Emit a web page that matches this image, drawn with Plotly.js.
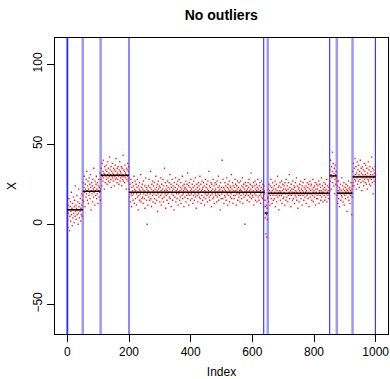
<!DOCTYPE html>
<html>
<head>
<meta charset="utf-8">
<script src="https://cdn.plot.ly/plotly-3.0.1.min.js"></script>
<style>html,body{margin:0;padding:0;background:#fff;}#chart{width:390px;height:379px;}</style>
</head>
<body>
<div id="chart"></div>
<script>
const seg1 = [3,-2,12,7,16,9,-4,5,11,14,2,8,20,6,10,-1,13,4,9,17,7,1,11,15,5,24,8,12,3,10,18,6,9,14,0,7,22,11,4,13,8,16,2,10,6,19,12,5,9,15];
const seg2 = [18,26,14,23,30,20,11,25,22,17,28,19,33,21,15,24,27,13,22,18,29,20,25,16,31,23,9,21,26,19,24,14,28,22,17,35,20,23,12,27,21,18,25,30,16,22,19,26,13,24,21,28,17,23,20,32,15,22];
const seg3 = [28,35,31,24,38,30,27,33,40,29,32,22,36,31,26,34,30,37,28,33,25,31,39,29,35,27,32,30,42,26,34,31,28,36,23,33,30,38,29,32,27,35,31,24,34,30,37,28,33,41,29,31,26,35,32,28,36,30,25,34,31,39,27,33,29,32,36,24,30,35,28,31,43,27,34,30,33,26,37,29,32,31,22,35,28,34,30,38,27,33,36,29];
const seg4 = [
22,17,25,14,20,28,19,11,23,18,26,21,15,24,19,30,13,22,20,27,
16,21,25,12,19,23,28,17,20,9,24,18,22,26,15,21,19,31,14,23,
20,16,25,17,22,13,27,19,21,16,24,10,20,29,18,23,15,22,0,19,
12,21,24,17,28,20,15,23,19,33,16,22,11,25,20,18,27,14,21,24,
19,26,16,22,13,20,30,18,23,15,21,25,8,19,27,22,17,24,20,14,
23,18,29,21,12,25,19,16,22,28,20,14,24,17,35,21,19,26,10,22,
18,24,15,21,27,19,23,13,20,26,17,22,31,16,20,25,11,23,19,28,
21,15,24,18,22,9,26,20,17,23,29,14,21,19,25,16,22,27,12,20,
24,19,28,15,21,17,23,26,13,20,22,18,30,16,24,19,21,11,25,22,
17,23,20,27,14,22,18,25,21,32,16,19,24,12,20,26,18,23,15,21,
28,19,22,16,25,20,13,23,18,27,21,15,24,19,29,17,22,10,20,25,
18,23,14,21,26,19,24,17,22,30,16,20,25,13,21,18,27,22,15,23,
20,26,17,24,12,21,19,28,16,23,20,25,18,14,22,27,19,21,33,17,
24,15,20,23,18,26,21,11,25,19,22,16,28,20,17,24,13,21,26,19,
22,18,25,14,20,27,17,23,19,30,15,21,24,18,22,9,26,20,16,23,
19,40,21,16,28,20,23,13,22,18,26,17,21,24,15,20,29,19,23,12,
25,18,22,20,27,14,21,24,17,23,19,31,16,22,20,26,13,24,18,21,
16,23,20,28,18,25,21,12,24,19,22,27,15,20,23,17,26,19,21,14,
22,27,18,21,16,24,20,29,13,23,19,25,17,22,20,0,26,18,24,21,
19,24,15,22,20,26,18,23,28,14,21,17,25,19,22,32,16,20,24,18,
23,17,21,26,12,20,24,19,27,15,22,18,25,21,14,23,20,28,17,22,
20,15,24,18,26,21,13,19,23,27,17,22,16,25,20,18,11,24,21,19];
const seg5 = [15,4,11,-6,12,6,-8,10,3,16];
const seg6 = [
17,22,14,25,19,21,12,24,18,28,16,20,23,13,21,26,18,15,22,19,
24,16,20,27,11,22,18,25,14,21,19,30,17,23,20,9,24,18,21,26,
15,20,23,18,27,13,21,19,25,16,22,17,24,20,12,26,19,22,15,28,
21,17,24,19,14,22,26,18,20,31,16,23,19,21,11,25,18,22,20,15,
27,19,22,16,24,20,13,23,18,26,21,17,29,15,20,24,19,10,22,18,
23,14,21,25,18,20,27,16,22,19,24,12,21,18,26,20,15,23,19,28,
17,22,20,24,13,21,18,26,19,23,16,20,25,11,22,19,27,17,21,24,
19,25,15,22,18,28,20,14,23,21,17,24,19,26,12,22,20,16,25,18,
22,16,24,19,27,13,21,20,25,18,23,15,21,29,17,20,24,19,14,22,
20,26,18,23,15,21,25,17,22,19,28,14,20,24,18,21,16,23,19,25,21];
const seg7 = [34,27,40,31,22,36,29,33,45,26,38,30,24,32,35,19,28,37,31,25,33,29,27];
const seg8 = [18,24,13,21,27,16,20,23,11,22,19,25,15,21,18,29,17,20,24,14,22,19,26,12,21,18,23,16,20,25,19,22,8,21,24,17,20,27,15,22,19,23,13,21,18,26,20,6,22,17,24];
const seg9 = [33,26,38,30,24,35,28,41,31,27,36,22,32,29,39,25,34,30,27,37,31,23,33,28,40,30,26,35,32,21,29,36,31,27,34,24,30,38,28,33,26,31,37,29,25,35,30,22,32,28,39,27,34,30,25,36,29,31,24,33,28,42,30,26,35,31,19,29,34,27,32,30,36,25,31];

// Segment boundaries and fitted means
const bounds = [0, 50, 108, 200, 640, 650, 851, 874, 925, 1000];
const means  = [9, 20.6, 30.6, 20, 7, 19.4, 30.2, 19.4, 29.6];

// Changepoint lines
const cptsStrong = [0, 200, 637, 851, 999];
const cptsLight  = [0, 50, 108, 650, 874, 925];

const xTicks = [0, 200, 400, 600, 800, 1000];
const yTicks = [-50, 0, 50, 100];

const allY = [].concat(seg1, seg2, seg3, seg4, seg5, seg6, seg7, seg8, seg9);
const allX = allY.map((_, i) => i + 1);

const mx = [], my = [];
for (let i = 0; i < means.length; i++) {
  mx.push(bounds[i], bounds[i + 1], null);
  my.push(means[i], means[i], null);
}

const shapes = [];
cptsLight.forEach(c => shapes.push({type:'line', xref:'x', yref:'paper', x0:c, x1:c, y0:0, y1:1,
  line:{color:'rgba(70,70,255,0.55)', width:2.5}, layer:'below'}));
cptsStrong.forEach(c => shapes.push({type:'line', xref:'x', yref:'paper', x0:c, x1:c, y0:0, y1:1,
  line:{color:'rgb(20,20,255)', width:1}, layer:'below'}));

const data = [
  {x: allX, y: allY, type:'scatter', mode:'markers',
   marker:{color:'#ff0000', size:1.3, symbol:'square', line:{width:0}}, hoverinfo:'skip'},
  {x: mx, y: my, type:'scatter', mode:'lines', line:{color:'#000', width:1.5}, hoverinfo:'skip'}
];

const font = {family:'"Liberation Sans", Arial, sans-serif', color:'#000'};
const layout = {
  width:390, height:379,
  margin:{l:55, r:2, t:38, b:45},
  paper_bgcolor:'#fff', plot_bgcolor:'#fff',
  showlegend:false,
  font: Object.assign({size:12}, font),
  title:{text:'<b>No outliers</b>', font:Object.assign({size:14}, font), x:0.5675, xanchor:'center', y:0.96, yanchor:'middle'},
  xaxis:{range:[-40, 1040], tickmode:'array', tickvals:xTicks, ticktext:xTicks.map(String),
    ticks:'outside', ticklen:7, tickcolor:'#000', showgrid:false, zeroline:false,
    showline:true, mirror:true, linecolor:'#000', linewidth:1,
    tickfont:Object.assign({size:12}, font),
    title:{text:'Index', font:Object.assign({size:12}, font), standoff:14}},
  yaxis:{range:[-68.6, 116.4], tickmode:'array', tickvals:yTicks, ticktext:['\u221250','0','50','100'],
    ticks:'outside', ticklen:7, tickcolor:'#000', showgrid:false, zeroline:false,
    showline:true, mirror:true, linecolor:'#000', linewidth:1, tickangle:-90,
    tickfont:Object.assign({size:12}, font),
    title:{text:'X', font:Object.assign({size:12}, font), standoff:12}},
  shapes: shapes
};

Plotly.newPlot('chart', data, layout, {staticPlot:true, displayModeBar:false});
</script>
</body>
</html>
